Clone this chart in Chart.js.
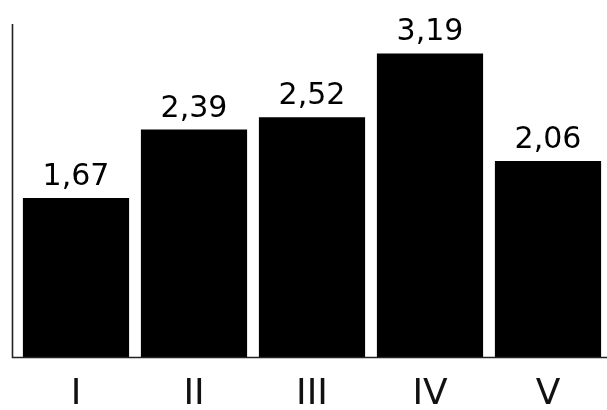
<!DOCTYPE html>
<html>
<head>
<meta charset="utf-8">
<script src="https://cdn.jsdelivr.net/npm/chart.js@4/dist/chart.umd.min.js"></script>
<style>
  html, body { margin: 0; padding: 0; background: #fff; }
  #wrap { width: 607px; height: 410px; }
</style>
</head>
<body>
<div id="wrap"><canvas id="bars"></canvas></div>
<script>
// Data
const categories = ['I', 'II', 'III', 'IV', 'V'];
const values = [1.67, 2.39, 2.52, 3.19, 2.06];
const yMax = 3.5;

// Axis lines sit a little left of the first bar gap, so draw them by hand
const axisLines = {
    id: 'axisLines',
    afterDraw(chart) {
        const { ctx, chartArea } = chart;
        const x0 = chartArea.left - 4.5;
        const y0 = chartArea.bottom + 0.5;
        ctx.save();
        ctx.strokeStyle = '#222';
        ctx.lineWidth = 1.6;
        ctx.beginPath();
        ctx.moveTo(x0, chartArea.top);
        ctx.lineTo(x0, y0);
        ctx.lineTo(chartArea.right, y0);
        ctx.stroke();
        ctx.restore();
    }
};

// Value labels over the bars, comma as decimal mark
const valueLabels = {
    id: 'valueLabels',
    afterDatasetsDraw(chart) {
        const { ctx } = chart;
        const meta = chart.getDatasetMeta(0);
        ctx.save();
        ctx.font = '30px "DejaVu Sans"';
        ctx.fillStyle = '#000';
        ctx.textAlign = 'center';
        ctx.textBaseline = 'alphabetic';
        meta.data.forEach((bar, i) => {
            ctx.fillText(values[i].toFixed(2).replace('.', ','), bar.x, bar.y - 13);
        });
        ctx.restore();
    }
};

new Chart(document.getElementById('bars'), {
    type: 'bar',
    data: {
        labels: categories,
        datasets: [{
            data: values,
            backgroundColor: '#000',
            borderWidth: 0,
            barPercentage: 0.9,
            categoryPercentage: 1
        }]
    },
    options: {
        responsive: true,
        maintainAspectRatio: false,
        animation: false,
        layout: {
            padding: { left: 17, top: 24, right: 0, bottom: 0 }
        },
        scales: {
            x: {
                grid: { display: false },
                border: { display: false },
                ticks: {
                    color: '#111',
                    padding: 8,
                    font: { family: 'DejaVu Sans', size: 36 }
                },
                afterFit(scale) { scale.height = 53; }
            },
            y: {
                display: false,
                min: 0,
                max: yMax
            }
        },
        plugins: {
            legend: { display: false },
            tooltip: { enabled: false }
        }
    },
    plugins: [axisLines, valueLabels]
});
</script>
</body>
</html>
